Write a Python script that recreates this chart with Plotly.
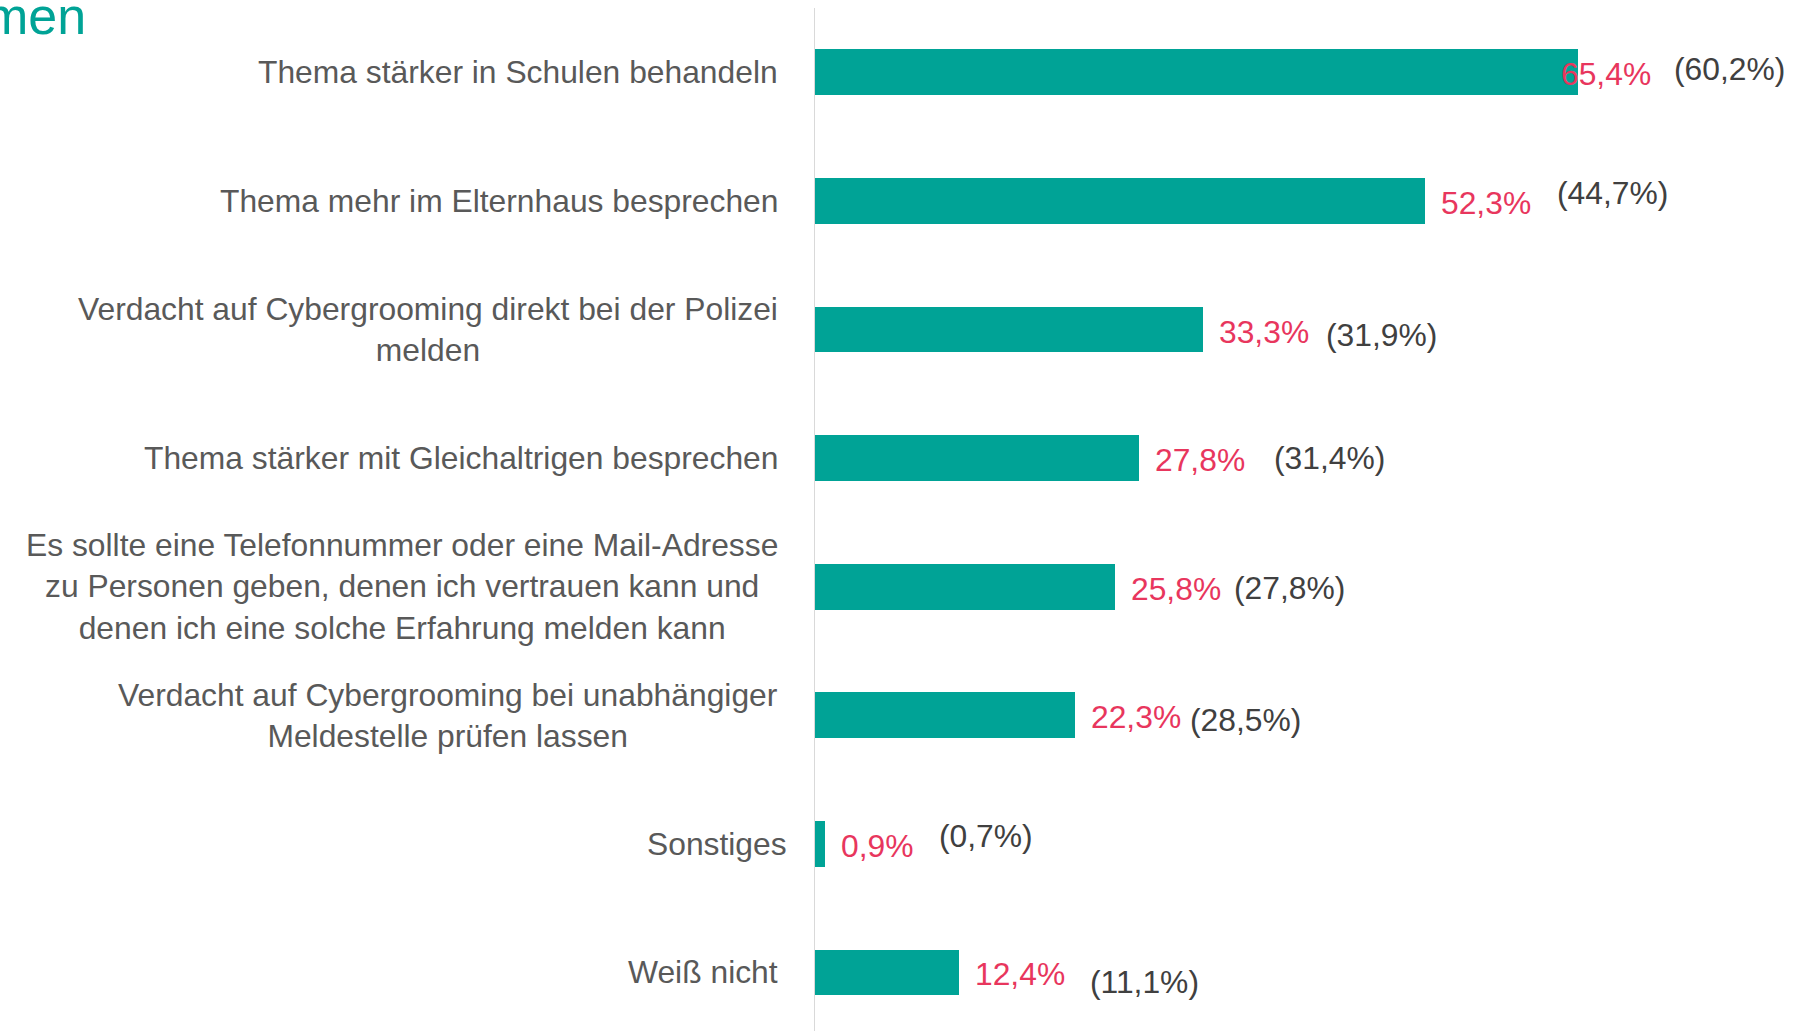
import plotly.graph_objects as go

# Survey answers: current share (bars) and previous value (in parentheses)
categories = [
    "Thema stärker in Schulen behandeln",
    "Thema mehr im Elternhaus besprechen",
    "Verdacht auf Cybergrooming direkt bei der Polizei<br>melden",
    "Thema stärker mit Gleichaltrigen besprechen",
    "Es sollte eine Telefonnummer oder eine Mail-Adresse<br>zu Personen geben, denen ich vertrauen kann und<br>denen ich eine solche Erfahrung melden kann",
    "Verdacht auf Cybergrooming bei unabhängiger<br>Meldestelle prüfen lassen",
    "Sonstiges",
    "Weiß nicht",
]
values_current = [65.4, 52.3, 33.3, 27.8, 25.8, 22.3, 0.9, 12.4]
values_previous = [60.2, 44.7, 31.9, 31.4, 27.8, 28.5, 0.7, 11.1]

# Label nudges in pixels (horizontal distance from bar end, vertical offset downwards)
current_dx = [-19, 14, 14, 14, 14, 14, 14, 14]
previous_dx = [96, 132, 123, 135, 119, 115, 114, 131]
previous_dy = [-3, -8, 5, 0, 1, 5, -8, 10]
category_dx = [0, 0, 0, 0, 0, 0, 9, 0]

TEAL = "#00A396"
RED = "#E8365D"
DARK = "#404040"
LABEL_GREY = "#595959"
FONT = "Liberation Sans, Arial, sans-serif"
FS = 31.8


def fmt(v):
    return f"{v:.1f}".replace(".", ",") + "%"


fig = go.Figure(
    go.Bar(
        x=values_current,
        y=categories,
        orientation="h",
        width=0.356,
        marker=dict(color=TEAL, line=dict(width=0)),
        hoverinfo="skip",
    )
)

annotations = []
for i, (cat, cur, prev) in enumerate(zip(categories, values_current, values_previous)):
    # category label, centred block right-aligned to the axis
    annotations.append(dict(
        xref="paper", yref="y", x=0, y=cat,
        xanchor="right", yanchor="middle", align="center",
        xshift=-34 + category_dx[i],
        text=cat, showarrow=False,
        font=dict(family=FONT, size=FS, color=LABEL_GREY),
    ))
    # current value
    annotations.append(dict(
        xref="x", yref="y", x=cur, y=cat,
        xanchor="left", yanchor="middle",
        xshift=current_dx[i], yshift=-2,
        text=fmt(cur), showarrow=False,
        font=dict(family=FONT, size=FS, color=RED),
    ))
    # previous value
    annotations.append(dict(
        xref="x", yref="y", x=cur, y=cat,
        xanchor="left", yanchor="middle",
        xshift=previous_dx[i] - 2, yshift=-previous_dy[i],
        text="(" + fmt(prev) + ")", showarrow=False,
        font=dict(family=FONT, size=FS, color=DARK),
    ))

# cut-off heading at the top left
annotations.append(dict(
    xref="paper", yref="paper", x=-0.742, y=0.9925,
    xanchor="right", yanchor="middle",
    text="men", showarrow=False,
    font=dict(family=FONT, size=52, color="#00A396"),
))

fig.update_layout(
    width=1793, height=1031,
    margin=dict(l=814, r=0, t=8, b=0),
    paper_bgcolor="white", plot_bgcolor="white",
    showlegend=False,
    bargap=0,
    xaxis=dict(range=[0, 83.8], visible=False, fixedrange=True),
    yaxis=dict(
        type="category", categoryorder="array", categoryarray=categories,
        range=[7.455, -0.5], showticklabels=False, showgrid=False,
        zeroline=False, showline=False, ticks="",
    ),
    annotations=annotations,
    shapes=[dict(
        type="line", xref="x", yref="paper", x0=0, x1=0, y0=0, y1=1,
        line=dict(color="#D9D9D9", width=2), layer="above",
    )],
)

fig.write_html("out.html")
